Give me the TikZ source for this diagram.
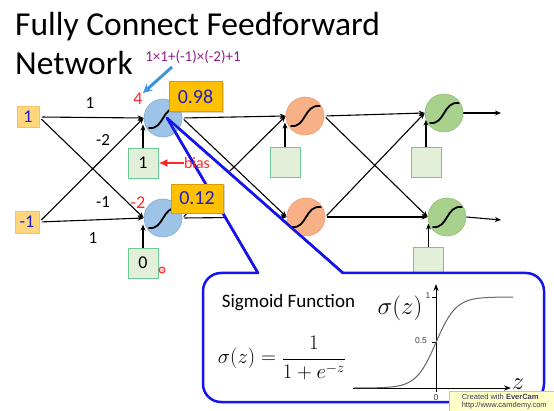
\documentclass[tikz,border=0pt]{standalone}
\usepackage{fontspec}
\setmainfont{Carlito}
\newfontfamily\lsans{Liberation Sans}
\usetikzlibrary{arrows.meta,shadows,calc}
\pgfdeclarelayer{lower}
\pgfdeclarelayer{calloutlayer}
\pgfsetlayers{lower,calloutlayer,main}
\definecolor{nblue}{RGB}{157,195,230}
\definecolor{nbluedraw}{RGB}{130,170,215}
\definecolor{norange}{RGB}{248,176,134}
\definecolor{norangedraw}{RGB}{238,155,112}
\definecolor{ngreen}{RGB}{169,209,142}
\definecolor{ngreendraw}{RGB}{145,190,120}
\definecolor{biasfill}{RGB}{226,240,217}
\definecolor{biasdraw}{RGB}{110,200,150}
\definecolor{inputfill}{RGB}{255,214,125}
\definecolor{inputdraw}{RGB}{245,195,100}
\definecolor{valfill}{RGB}{255,192,0}
\definecolor{valdraw}{RGB}{215,160,0}
\definecolor{textblue}{RGB}{30,30,200}
\definecolor{redc}{RGB}{255,40,40}
\definecolor{purplec}{RGB}{140,30,140}
\definecolor{arrowblue}{RGB}{60,150,220}
\definecolor{calloutblue}{RGB}{20,20,235}
\definecolor{wmfill}{RGB}{255,255,200}
\definecolor{wmdraw}{RGB}{205,200,130}
\definecolor{wmtext}{RGB}{60,60,90}
\begin{document}
\begin{tikzpicture}[x=1pt,y=-1pt,
  neuron/.style={circle, minimum size=38pt, inner sep=0pt, line width=0.6pt,
    path picture={\draw[draw=black, line width=1.8pt, line cap=round]
      ([shift={(-14,10)}]path picture bounding box.center)
      .. controls ([shift={(1,12)}]path picture bounding box.center)
      and ([shift={(-1,-12)}]path picture bounding box.center)
      .. ([shift={(15,-10)}]path picture bounding box.center);}},
  biasbox/.style={rectangle, draw=biasdraw, fill=biasfill, line width=0.8pt,
    minimum width=30pt, minimum height=30pt, inner sep=0pt,
    font=\fontsize{18}{20}\selectfont},
  inbox/.style={rectangle, draw=inputdraw, fill=inputfill, line width=0.5pt,
    minimum width=22pt, minimum height=21pt, inner sep=0pt, text=textblue,
    font=\fontsize{18}{20}\selectfont},
  valbox/.style={rectangle, draw=valdraw, fill=valfill, line width=0.6pt,
    minimum width=53pt, minimum height=30pt, inner sep=0pt, text=textblue,
    font=\fontsize{20}{22}\selectfont,
    drop shadow={opacity=0.35, shadow xshift=1.5pt, shadow yshift=-1.5pt}},
  arr/.style={draw=black, line width=1.1pt, -{Stealth[length=6pt,width=5pt]}},
  wlbl/.style={inner sep=0pt, font=\fontsize{17}{20}\selectfont},
  redlbl/.style={inner sep=0pt, text=redc, font=\fontsize{18}{20}\selectfont},
  wedge/.style={draw=calloutblue, line width=2.5pt, line join=round, line cap=round},
  tick/.style={inner sep=0pt, font=\lsans\fontsize{8.5}{9}\selectfont, text=black!75}
]
\useasboundingbox (0,0) rectangle (554,411);

% ---------- neurons (main layer) ----------
\node[neuron, fill=nblue, draw=nbluedraw] (n11) at (163,118) {};
\node[neuron, fill=nblue, draw=nbluedraw] (n12) at (163,218) {};
\node[neuron, fill=norange, draw=norangedraw] (n21) at (305,116) {};
\node[neuron, fill=norange, draw=norangedraw] (n22) at (306,217) {};
\node[neuron, fill=ngreen, draw=ngreendraw] (n31) at (444,113) {};
\node[neuron, fill=ngreen, draw=ngreendraw] (n32) at (447,217) {};

\coordinate (o1) at (501,113);
\coordinate (o2) at (501,220);
\coordinate (tip) at (167,118);
\coordinate (wl) at (258,273);
\coordinate (wr) at (343,273);

% ---------- lower layer: background, edges, boxes ----------
\begin{pgfonlayer}{lower}
\fill[white] (0,0) rectangle (554,411);
\node[inbox] (in1) at (28,117) {1};
\node[inbox, minimum width=24pt, minimum height=22pt] (in2) at (27,222) {-1};

\node[biasbox] (b11) at (143,163) {1};
\node[biasbox] (b12) at (143,263) {0};
\node[biasbox] (b21) at (285,162.5) {};
\node[biasbox] (b31) at (426,162.5) {};
\node[biasbox] (b32) at (428.5,262) {};

\draw[arr, shorten <=3pt] (in1.east) -- (n11.west);
\draw[arr, shorten <=3pt] (in1.east) -- (n12.west);
\draw[arr, shorten <=3pt] (in2.east) -- (n11.west);
\draw[arr, shorten <=3pt] (in2.east) -- (n12.west);

\draw[arr, shorten <=2pt] (n11.east) -- (n21.west);
\draw[arr, shorten <=2pt] (n11.east) -- (n22.west);
\draw[arr, shorten <=2pt] (n12.east) -- (n21.west);
\draw[arr, shorten <=2pt] (n12.east) -- (n22.west);

\draw[arr, shorten <=2pt] (n21.east) -- (n31.west);
\draw[arr, shorten <=2pt] (n21.east) -- (n32.west);
\draw[arr, shorten <=2pt] (n22.east) -- (n31.west);
\draw[arr, shorten <=2pt] (n22.east) -- (n32.west);

\draw[arr] (n31.east) -- (o1);
\draw[arr] (n32.east) -- (o2);

\draw[arr] (b11.north) -- (b11.north |- n11.200);
\draw[arr] (b12.north) -- (b12.north |- n12.200);
\draw[arr] (b21.north) -- (b21.north |- n21.200);
\draw[arr] (b31.north) -- (b31.north |- n31.200);
\draw[arr] (b32.north) -- (b32.north |- n32.200);
\end{pgfonlayer}

% ---------- callout ----------
\begin{pgfonlayer}{calloutlayer}
\path[fill=white, draw=calloutblue, line width=2.5pt, line join=round]
  (wr) [rounded corners=18pt] -- (544,273) -- (544,402) -- (203,402) -- (203,273)
  [sharp corners] -- (wl) -- (tip) -- cycle;
\node[anchor=base, inner sep=0pt, font=\fontsize{19}{21}\selectfont] (sf) at (288.5,308) {Sigmoid Function};
\node[inner sep=0pt, font=\fontsize{22}{26}\selectfont] (eq) at (282,358) {$\displaystyle\sigma(z)=\frac{1}{1+e^{-z}}$};
% plot
\coordinate (xa0) at (353,388);
\coordinate (xa1) at (511,388);
\coordinate (ya0) at (436,392);
\coordinate (ya1) at (436,284);
\draw[line width=0.9pt, -{Stealth[length=7pt,width=5pt]}] (xa0) -- (xa1);
\draw[line width=0.9pt, -{Stealth[length=7pt,width=5pt]}] (ya0) -- (ya1);
\draw[line width=0.6pt] (432,297) -- (436,297);
\draw[line width=0.6pt] (432,342.5) -- (436,342.5);
\draw[black!60, line width=1pt] plot[domain=-8.2:7.7, samples=90, smooth]
  ({436+10*\x},{388-91/(1+exp(-\x))});
\node[tick] (t1) at (428,296) {1};
\node[tick] (t05) at (421,341) {0.5};
\node[tick] (t0) at (436,397.5) {0};
\node[inner sep=0pt, font=\fontsize{23}{26}\selectfont] (sz) at (400,308) {$\sigma(z)$};
\node[inner sep=0pt, font=\fontsize{23}{26}\selectfont] (zl) at (518,384) {$z$};
\end{pgfonlayer}

% ---------- wedge lines over neuron ----------
\draw[wedge] (tip) -- (wl);
\draw[wedge] (tip) -- (wr);

% ---------- value boxes ----------
\node[valbox] (v1) at (195.5,96.5) {0.98};
\node[valbox, minimum width=52pt, minimum height=29pt] (v2) at (197,198.5) {0.12};

% ---------- labels ----------
\node[wlbl] (w1) at (90,103) {1};
\node[wlbl] (w2) at (103,140) {-2};
\node[wlbl] (w3) at (103,202) {-1};
\node[wlbl] (w4) at (93,238) {1};
\node[redlbl] (z1) at (138,99) {4};
\node[redlbl] (z2) at (138,203) {-2};
\node[inner sep=0pt, text=redc, font=\fontsize{16}{18}\selectfont] (bias) at (197,163) {bias};
\draw[redc, line width=2.2pt, -{Latex[length=9pt,width=8pt]}] (bias.west) -- (b11.east);

% title
\node[anchor=base west, inner sep=0pt, font=\fontsize{33.5}{38}\selectfont] (t1l) at (15,36) {Fully Connect Feedforward};
\node[anchor=base west, inner sep=0pt, font=\fontsize{33.5}{38}\selectfont] (t2l) at (15,75) {Network};
\node[inner sep=0pt, text=purplec, font=\fontsize{15}{17}\selectfont] (calc) at (193,57) {1×1+(-1)×(-2)+1};
\coordinate (pa0) at (172,67);
\coordinate (pa1) at (143,93);
\draw[arrowblue, line width=3pt, -{Stealth[length=9pt,width=9pt]}] (pa0) -- (pa1);

% cursor dot
\node[circle, draw=redc, fill=redc!25, line width=1pt, minimum size=6pt, inner sep=0pt] (dot) at (162,270) {};

% watermark
\node[rectangle, draw=wmdraw, fill=wmfill, line width=0.5pt, minimum width=110pt, minimum height=20pt,
  inner sep=2pt, align=left, anchor=north west, text=wmtext, font=\lsans\fontsize{7.5}{8}\selectfont]
  (wmk) at (449,391) {Created with \textbf{EverCam}\\http://www.camdemy.com};
\end{tikzpicture}
\end{document}
